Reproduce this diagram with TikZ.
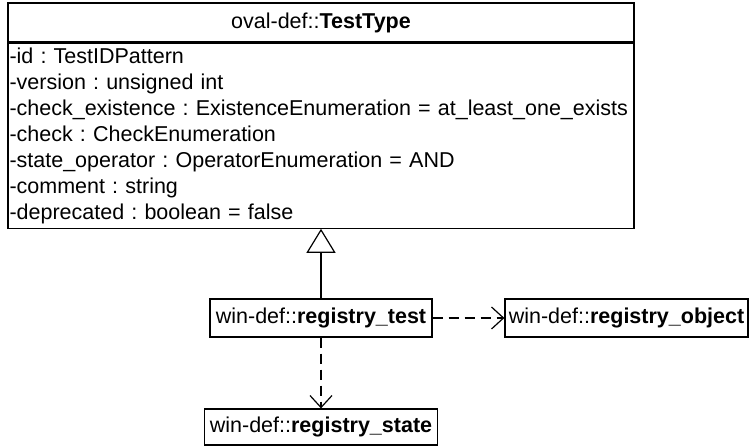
\documentclass[tikz,border=0pt]{standalone}
\usepackage{fontspec}
\setmainfont{Liberation Sans}
\usetikzlibrary{arrows.meta}
\frenchspacing

\begin{document}
\begin{tikzpicture}[x=1pt, y=1pt, line width=1.2pt,
    font=\fontsize{21.5}{26}\selectfont]
    \useasboundingbox (0,0) rectangle (749,446);
    % クラス TestType
    \node[draw, fill=white, minimum width=626pt, minimum height=39pt, inner sep=0pt] (head) at (321, 423.5) {oval-def::\textbf{TestType}};
    \node[draw, anchor=north, text width=623pt, minimum height=185pt, inner xsep=1.5pt, inner ysep=0pt, align=left] (attrs) at (head.south) {-id : TestIDPattern\\
        -version : unsigned int\\
        -check\_existence : ExistenceEnumeration = at\_least\_one\_exists\\
        -check : CheckEnumeration\\
        -state\_operator : OperatorEnumeration = AND\\
        -comment : string\\
        -deprecated : boolean = false};
    % win-def のクラス
    \node[draw, minimum width=222pt, minimum height=38pt, inner sep=0pt] (test) at (321, 128) {win-def::\textbf{registry\_test}};
    \node[draw, minimum width=243pt, minimum height=38pt, inner sep=0pt] (object) at (626.5, 128) {win-def::\textbf{registry\_object}};
    \node[draw, minimum width=233pt, minimum height=36pt, inner sep=0pt] (state) at (321, 19) {win-def::\textbf{registry\_state}};

    % 継承
    \draw[-{Triangle[open, length=24pt, width=29pt]}] (test.north) -- (test.north |- attrs.south);
    % 依存
    \draw[dash pattern=on 10pt off 6pt, -{Straight Barb[length=12pt, width=22pt]}] (test.east) -- (object.west);
    \draw[dash pattern=on 10pt off 6pt, -{Straight Barb[length=12pt, width=22pt]}] (test.south) -- (state.north);
\end{tikzpicture}
\end{document}
